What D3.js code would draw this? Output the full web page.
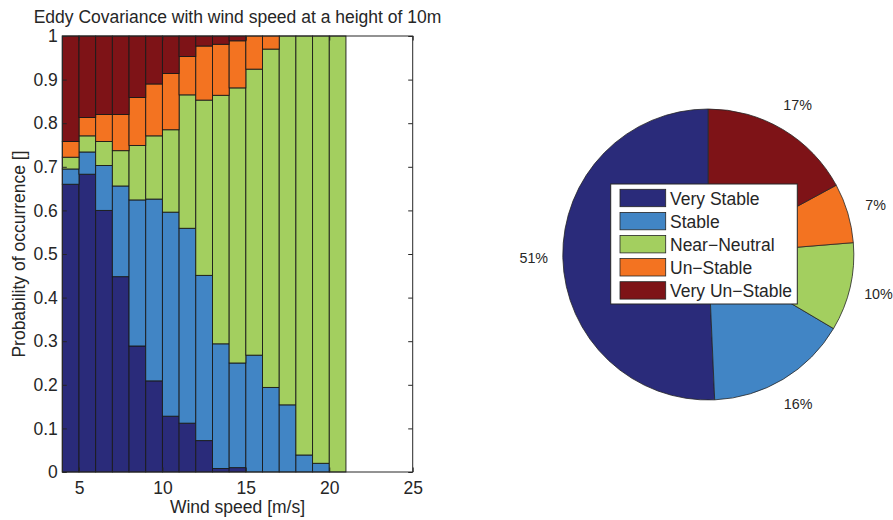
<!DOCTYPE html>
<html>
<head>
<meta charset="utf-8">
<script src="https://cdn.jsdelivr.net/npm/d3@7"></script>
<style>
  body { margin: 0; background: #fff; }
  svg { display: block; font-family: "Liberation Sans", Arial, Helvetica, sans-serif; }
  .axis text { fill: #262626; font-size: 17.5px; }
  .axis line, .axis path { stroke: #262626; }
</style>
</head>
<body>
<svg id="chart" width="893" height="520"></svg>
<script>
// wind speed bins (left edge of each bar, m/s)
const windSpeeds = [4, 5, 6, 7, 8, 9, 10, 11, 12, 13, 14, 15, 16, 17, 18, 19, 20];
const classes = ["Very Stable", "Stable", "Near\u2212Neutral", "Un\u2212Stable", "Very Un\u2212Stable"];

// probability of occurrence per class, one value per wind speed bin
const veryStable   = [0.660, 0.683, 0.600, 0.448, 0.289, 0.209, 0.128, 0.112, 0.072, 0.008, 0.010, 0, 0, 0, 0, 0, 0];
const stable       = [0.035, 0.051, 0.103, 0.208, 0.335, 0.417, 0.468, 0.447, 0.379, 0.286, 0.240, 0.268, 0.194, 0.154, 0.039, 0.020, 0];
const nearNeutral  = [0.027, 0.037, 0.055, 0.081, 0.125, 0.145, 0.189, 0.306, 0.402, 0.570, 0.631, 0.656, 0.776, 0.846, 0.961, 0.980, 1.0];
const unStable     = [0.036, 0.042, 0.062, 0.083, 0.110, 0.119, 0.129, 0.088, 0.124, 0.117, 0.108, 0.076, 0.030, 0, 0, 0, 0];
const veryUnStable = [0.242, 0.187, 0.180, 0.180, 0.141, 0.110, 0.086, 0.047, 0.023, 0.019, 0.011, 0, 0, 0, 0, 0, 0];

// overall share of each class (pie)
const pieShares = [0.507, 0.158, 0.098, 0.066, 0.171];
const pieLabels = ["51%", "16%", "10%", "7%", "17%"];

const xTicks = [5, 10, 15, 20, 25];
const yTicks = [0, 0.1, 0.2, 0.3, 0.4, 0.5, 0.6, 0.7, 0.8, 0.9, 1];

const colors = ["#2a2b7a", "#4185c5", "#a3cf5f", "#f37321", "#7e1317"];

const svg = d3.select("#chart");

// ---- stacked bars ----
const axLeft = 62.3, axRight = 412.7, axTop = 36, axBottom = 472;
const x = d3.scaleLinear().domain([4, 25]).range([axLeft, axRight]);
const y = d3.scaleLinear().domain([0, 1]).range([axBottom, axTop]);

const series = [veryStable, stable, nearNeutral, unStable, veryUnStable];
const rows = windSpeeds.map((w, i) => {
    let r = { wind: w };
    classes.forEach((c, k) => r[c] = series[k][i]);
    return r;
});
const stacked = d3.stack().keys(classes)(rows);

svg.append("g").selectAll("g")
    .data(stacked)
    .join("g")
    .attr("fill", (d, i) => colors[i])
    .selectAll("rect")
    .data(d => d.filter(s => s[1] - s[0] > 0))
    .join("rect")
    .attr("x", d => x(d.data.wind))
    .attr("width", d => x(d.data.wind + 1) - x(d.data.wind))
    .attr("y", d => y(d[1]))
    .attr("height", d => y(d[0]) - y(d[1]))
    .attr("stroke", "#1a1a1a")
    .attr("stroke-width", 0.9);

// axes with inward ticks, box on
const tick = 4.5;
svg.append("g").attr("class", "axis")
    .attr("transform", `translate(0,${axBottom})`)
    .call(d3.axisBottom(x).tickValues(xTicks).tickSize(-tick).tickSizeOuter(0).tickPadding(9.5))
    .call(g => g.select(".domain").remove());
svg.append("g").attr("class", "axis")
    .attr("transform", `translate(0,${axTop})`)
    .call(d3.axisTop(x).tickValues(xTicks).tickSize(-tick).tickSizeOuter(0).tickFormat(""))
    .call(g => g.select(".domain").remove());
svg.append("g").attr("class", "axis")
    .attr("transform", `translate(${axLeft},0)`)
    .call(d3.axisLeft(y).tickValues(yTicks).tickSize(-tick).tickSizeOuter(0).tickPadding(4.5).tickFormat(d3.format("")))
    .call(g => g.select(".domain").remove());
svg.append("g").attr("class", "axis")
    .attr("transform", `translate(${axRight},0)`)
    .call(d3.axisRight(y).tickValues(yTicks).tickSize(-tick).tickSizeOuter(0).tickFormat(""))
    .call(g => g.select(".domain").remove());

svg.append("rect")
    .attr("x", axLeft).attr("y", axTop)
    .attr("width", axRight - axLeft).attr("height", axBottom - axTop)
    .attr("fill", "none").attr("stroke", "#262626").attr("stroke-width", 1);

svg.append("text")
    .attr("x", (axLeft + axRight) / 2).attr("y", 23)
    .attr("text-anchor", "middle").attr("fill", "#262626").style("font-size", "17.5px")
    .text("Eddy Covariance with wind speed at a height of 10m");

svg.append("text")
    .attr("x", (axLeft + axRight) / 2).attr("y", 513)
    .attr("text-anchor", "middle").attr("fill", "#262626").style("font-size", "17.5px")
    .text("Wind speed [m/s]");

svg.append("text")
    .attr("transform", `translate(25,${(axTop + axBottom) / 2}) rotate(-90)`)
    .attr("text-anchor", "middle").attr("fill", "#262626").style("font-size", "17.5px")
    .text("Probability of occurrence []");

// ---- pie ----
const cx = 708.3, cy = 254.5, R = 145.5;
const pie = d3.pie().sort(null).startAngle(0).endAngle(-2 * Math.PI);
const arcs = pie(pieShares);
const arc = d3.arc().innerRadius(0).outerRadius(R);
const labelArc = d3.arc().innerRadius(R * 1.2).outerRadius(R * 1.2);

const pg = svg.append("g").attr("transform", `translate(${cx},${cy})`);
pg.selectAll("path")
    .data(arcs)
    .join("path")
    .attr("d", arc)
    .attr("fill", (d, i) => colors[i])
    .attr("stroke", "#262626")
    .attr("stroke-width", 0.8);

pg.selectAll("text")
    .data(arcs)
    .join("text")
    .attr("transform", d => `translate(${labelArc.centroid(d)})`)
    .attr("text-anchor", "middle")
    .attr("dy", "0.35em")
    .attr("fill", "#262626")
    .style("font-size", "14.3px")
    .text((d, i) => pieLabels[i]);

// legend
const lx = 610.7, ly = 184, lw = 186.6, lh = 120;
const lg = svg.append("g");
lg.append("rect")
    .attr("x", lx).attr("y", ly).attr("width", lw).attr("height", lh)
    .attr("fill", "#fff").attr("stroke", "#262626").attr("stroke-width", 1);
const item = lg.selectAll("g.item")
    .data(classes)
    .join("g")
    .attr("class", "item")
    .attr("transform", (d, i) => `translate(0,${198 + i * 23.1})`);
item.append("rect")
    .attr("x", 620).attr("y", -8.7)
    .attr("width", 45.7).attr("height", 17.4)
    .attr("fill", (d, i) => colors[i])
    .attr("stroke", "#262626").attr("stroke-width", 0.8);
item.append("text")
    .attr("x", 670).attr("y", 7)
    .attr("fill", "#262626")
    .style("font-size", "17.5px")
    .text(d => d);
</script>
</body>
</html>
